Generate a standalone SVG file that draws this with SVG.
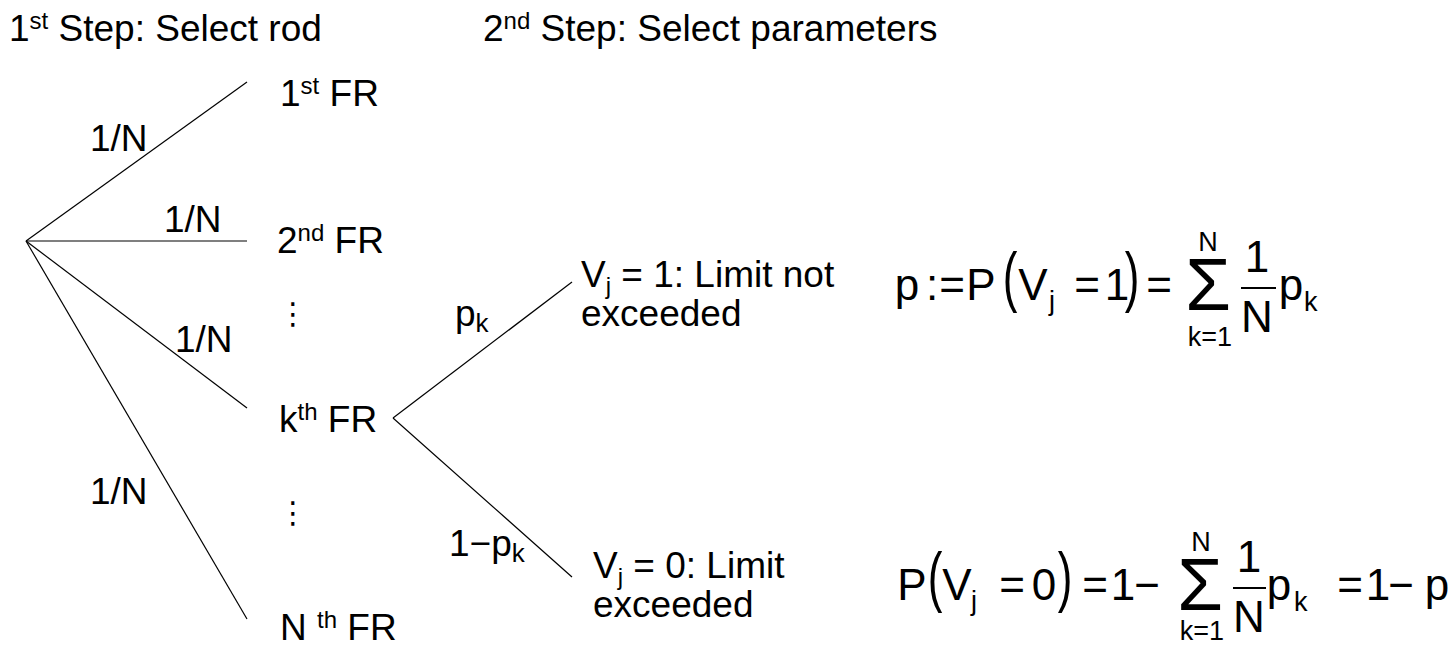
<svg xmlns="http://www.w3.org/2000/svg" width="1456" height="646" viewBox="0 0 1456 646">
<style>
.t{font-family:"Liberation Sans",Arial,sans-serif;fill:#000;font-size:37px}
.f{font-family:"Liberation Sans",Arial,sans-serif;fill:#000;font-size:44px;text-anchor:middle}
.sub{font-family:"Liberation Sans",Arial,sans-serif;fill:#000;font-size:27px}
.lim{font-family:"Liberation Sans",Arial,sans-serif;fill:#000;font-size:27px;text-anchor:middle}
.sig{font-family:"Liberation Sans",Arial,sans-serif;fill:#000;font-size:74px;text-anchor:middle}
.dots{font-family:"DejaVu Sans",sans-serif;fill:#000;font-size:30px;text-anchor:middle}
.c{stroke:#000;stroke-width:1.2;fill:none}
.bar{stroke:#000;stroke-width:2}
</style>
<rect width="1456" height="646" fill="#fff"/>
<g id="headers">
<text class="t" x="9" y="41">1<tspan font-size="24" dy="-12">st</tspan><tspan dy="12"> Step: Select rod</tspan></text>
<text class="t" x="483" y="41">2<tspan font-size="24" dy="-12">nd</tspan><tspan dy="12"> Step: Select parameters</tspan></text>
</g>
<g id="connectors">
<line class="c" x1="26" y1="241" x2="247" y2="82"/>
<line class="c" x1="26" y1="241" x2="247" y2="241"/>
<line class="c" x1="26" y1="241" x2="247" y2="408"/>
<line class="c" x1="26" y1="241" x2="247" y2="619"/>
<line class="c" x1="393" y1="418" x2="572" y2="282"/>
<line class="c" x1="393" y1="418" x2="572" y2="577"/>
<text class="t" x="90" y="151">1/N</text>
<text class="t" x="164" y="232">1/N</text>
<text class="t" x="175" y="352">1/N</text>
<text class="t" x="90" y="504">1/N</text>
<text class="t" x="455" y="326">p<tspan font-size="26" dy="6">k</tspan></text>
<text class="t" x="449" y="556">1−p<tspan font-size="26" dy="6">k</tspan></text>
</g>
<g id="node-1st"><text class="t" x="280" y="106">1<tspan font-size="24" dy="-12">st</tspan><tspan dy="12"> FR</tspan></text></g>
<g id="node-2nd"><text class="t" x="277" y="253">2<tspan font-size="24" dy="-12">nd</tspan><tspan dy="12"> FR</tspan></text></g>
<g id="ellipsis-1"><text class="dots" x="293" y="324">⋮</text></g>
<g id="node-kth"><text class="t" x="279" y="432">k<tspan font-size="24" dy="-12">th</tspan><tspan dy="12"> FR</tspan></text></g>
<g id="ellipsis-2"><text class="dots" x="293" y="523">⋮</text></g>
<g id="node-Nth"><text class="t" x="280" y="640">N <tspan font-size="24" dy="-12">th</tspan><tspan dy="12"> FR</tspan></text></g>
<g id="node-v1">
<text class="t" x="581" y="287">V<tspan font-size="24" dy="7">j</tspan><tspan dy="-7"> = 1: Limit not</tspan></text>
<text class="t" x="581" y="326">exceeded</text>
</g>
<g id="node-v0">
<text class="t" x="593" y="578">V<tspan font-size="24" dy="7">j</tspan><tspan dy="-7"> = 0: Limit</tspan></text>
<text class="t" x="593" y="617">exceeded</text>
</g>
<g id="formula-1">
<text class="f" x="907" y="300">p</text>
<text class="f" x="932" y="300">:</text>
<text class="f" x="952" y="300">=</text>
<text class="f" x="981" y="300">P</text>
<text class="f" transform="translate(1010,298.5) scale(1,1.5)">(</text>
<text class="f" x="1033" y="300">V</text>
<text class="sub" x="1049" y="310">j</text>
<text class="f" x="1087" y="300">=</text>
<text class="f" x="1117" y="300">1</text>
<text class="f" transform="translate(1132,298.5) scale(1,1.5)">)</text>
<text class="f" x="1159" y="300">=</text>
<text class="sig" x="1208" y="310">Σ</text>
<text class="lim" x="1208" y="251">N</text>
<text class="lim" x="1210" y="346">k=1</text>
<text class="f" x="1257" y="272">1</text>
<line class="bar" x1="1241" y1="288" x2="1276" y2="288"/>
<text class="f" x="1257" y="332">N</text>
<text class="f" x="1291" y="300">p</text>
<text class="sub" x="1304" y="311">k</text>
</g>
<g id="formula-2">
<text class="f" x="912" y="600">P</text>
<text class="f" transform="translate(935,598.5) scale(1,1.5)">(</text>
<text class="f" x="957" y="600">V</text>
<text class="sub" x="971" y="610">j</text>
<text class="f" x="1012" y="600">=</text>
<text class="f" x="1044" y="600">0</text>
<text class="f" transform="translate(1065,598.5) scale(1,1.5)">)</text>
<text class="f" x="1095" y="600">=</text>
<text class="f" x="1123" y="600">1</text>
<text class="f" x="1147" y="600">−</text>
<text class="sig" x="1200" y="610">Σ</text>
<text class="lim" x="1201" y="551">N</text>
<text class="lim" x="1202" y="640">k=1</text>
<text class="f" x="1249" y="572">1</text>
<line class="bar" x1="1233" y1="588" x2="1266" y2="588"/>
<text class="f" x="1249" y="632">N</text>
<text class="f" x="1279" y="600">p</text>
<text class="sub" x="1294" y="611">k</text>
<text class="f" x="1350" y="600">=</text>
<text class="f" x="1378" y="600">1</text>
<text class="f" x="1401" y="600">−</text>
<text class="f" x="1437" y="600">p</text>
</g>
</svg>
